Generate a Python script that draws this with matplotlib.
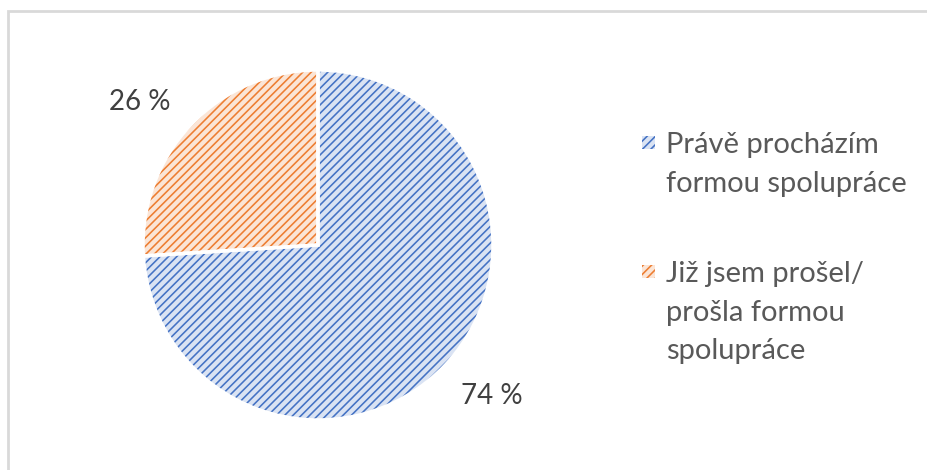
import matplotlib.pyplot as plt
from matplotlib.patches import Rectangle, Wedge

labels = ['Právě procházím\nformou spolupráce', 'Již jsem prošel/\nprošla formou\nspolupráce']
shares = [74, 26]
edge_colors = ['#4472C4', '#ED7D31']
fill_colors = ['#DAE3F3', '#FBE5D6']
label_pos = [(0.994, -0.86), (-1.017, 0.817)]

plt.rcParams['font.family'] = ['Lato', 'DejaVu Sans']
plt.rcParams['hatch.linewidth'] = 1.15
HATCH = '////'

W, H = 928, 470
fig = plt.figure(figsize=(W / 100, H / 100), dpi=100)

# light gray chart border (open on the right and bottom)
fig.patches.append(Rectangle((8 / W, -0.1), 1.2, (H - 11) / H + 0.1,
                             transform=fig.transFigure, fill=False,
                             edgecolor='#D9D9D9', linewidth=2))

ax = fig.add_axes([143 / W, 50 / H, 350 / W, 350 / H])
wedges, _, autotexts = ax.pie(shares, startangle=90, counterclock=False,
                              autopct=lambda p: f'{p:.0f} %', pctdistance=1.3,
                              textprops={'fontsize': 20, 'color': '#404040'})
for w, fc, hc in zip(wedges, fill_colors, edge_colors):
    w.set_facecolor(fc)
    w.set_hatch(HATCH)
    w.set_edgecolor(hc)
    w.set_linewidth(0)
for t, pos in zip(autotexts, label_pos):
    t.set_position(pos)
# white separators drawn on top of the hatched fills
for w in wedges:
    ax.add_patch(Wedge(w.center, w.r, w.theta1, w.theta2,
                       fill=False, edgecolor='white', linewidth=2.5))
ax.set_xlim(-1, 1)
ax.set_ylim(-1, 1)
ax.set_aspect('equal')
ax.axis('off')

# legend: square key aligned with the first line of each entry
entry_tops = [143, 272]
for lab, fc, hc, y in zip(labels, fill_colors, edge_colors, entry_tops):
    fig.patches.append(Rectangle((642 / W, 1 - (y + 6) / H), 13 / W, 13 / H,
                                 transform=fig.transFigure, facecolor=fc,
                                 edgecolor=hc, hatch=HATCH, linewidth=0))
    fig.text(666 / W, 1 - (y - 11) / H, lab, fontsize=21, color='#595959',
             va='top', ha='left', linespacing=1.6,
             transform=fig.transFigure)

fig.savefig('out.png', dpi=100, facecolor='white')
